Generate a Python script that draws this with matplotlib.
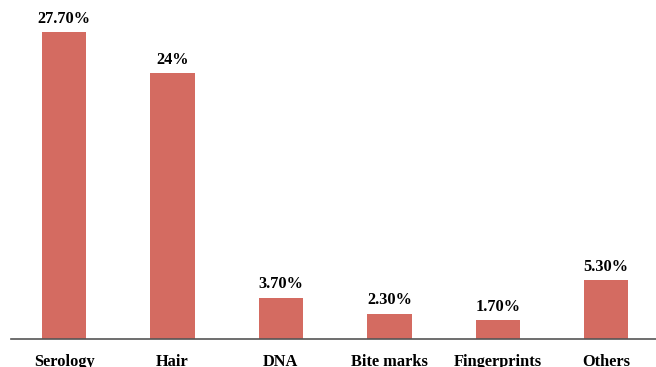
import matplotlib.pyplot as plt

categories = ["Serology", "Hair", "DNA", "Bite marks", "Fingerprints", "Others"]
values = [27.7, 24, 3.7, 2.3, 1.7, 5.3]
labels = ["27.70%", "24%", "3.70%", "2.30%", "1.70%", "5.30%"]

plt.rcParams['font.family'] = ['Liberation Serif', 'DejaVu Serif']
plt.rcParams['font.weight'] = 'bold'

fig = plt.figure(figsize=(6.56, 3.67), dpi=100)
ax = fig.add_axes([11/656, 28/367, 645/656, 339/367])

x = range(len(categories))
bars = ax.bar(x, values, width=0.41, color="#D46B61")

for b, lab in zip(bars, labels):
    ax.annotate(lab, (b.get_x() + b.get_width()/2, b.get_height()),
                xytext=(0, 4), textcoords="offset points",
                ha="center", va="bottom", fontsize=11.8, fontweight="bold")

ax.set_xlim(-0.49, 5.46)
ax.set_ylim(0, 30.6)
ax.set_xticks(list(x))
ax.set_xticklabels(categories, fontsize=11.8, fontweight="bold")
ax.tick_params(axis="x", length=0, pad=11)
ax.set_yticks([])
for s in ["top", "right", "left"]:
    ax.spines[s].set_visible(False)
ax.spines["bottom"].set_color("#555555")
ax.spines["bottom"].set_linewidth(1.2)

fig.savefig("out.png", dpi=100)
